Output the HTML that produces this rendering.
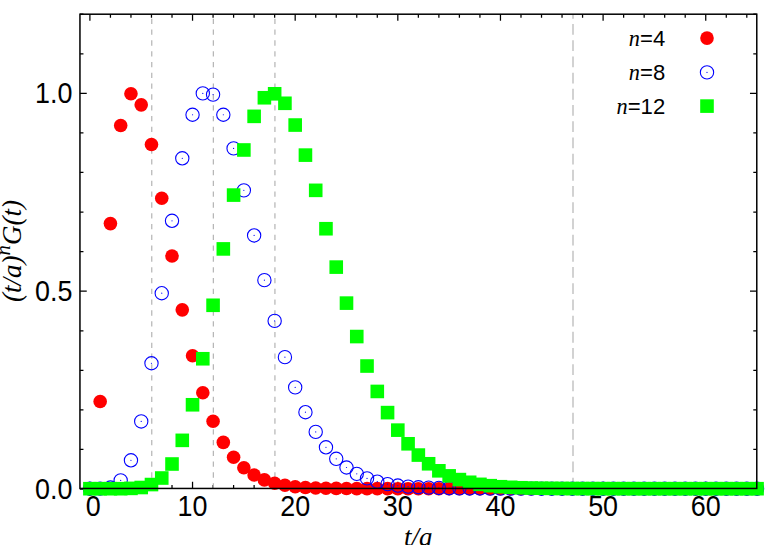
<!DOCTYPE html>
<html><head><meta charset="utf-8"><title>chart</title>
<style>html,body{margin:0;padding:0;background:#fff;overflow:hidden}svg{display:block}.s{font-family:"Liberation Sans",sans-serif}.i{font-family:"Liberation Serif",serif;font-style:italic}</style></head><body>
<svg width="778" height="545" viewBox="0 0 778 545">
<rect width="778" height="545" fill="#fff"/>
<path d="M89.90 488.45v-6.6M89.90 14.2v6.6M110.43 488.45v-3.5M110.43 14.2v3.5M130.96 488.45v-3.5M130.96 14.2v3.5M151.48 488.45v-3.5M151.48 14.2v3.5M172.01 488.45v-3.5M172.01 14.2v3.5M192.54 488.45v-6.6M192.54 14.2v6.6M213.07 488.45v-3.5M213.07 14.2v3.5M233.60 488.45v-3.5M233.60 14.2v3.5M254.12 488.45v-3.5M254.12 14.2v3.5M274.65 488.45v-3.5M274.65 14.2v3.5M295.18 488.45v-6.6M295.18 14.2v6.6M315.71 488.45v-3.5M315.71 14.2v3.5M336.24 488.45v-3.5M336.24 14.2v3.5M356.76 488.45v-3.5M356.76 14.2v3.5M377.29 488.45v-3.5M377.29 14.2v3.5M397.82 488.45v-6.6M397.82 14.2v6.6M418.35 488.45v-3.5M418.35 14.2v3.5M438.88 488.45v-3.5M438.88 14.2v3.5M459.40 488.45v-3.5M459.40 14.2v3.5M479.93 488.45v-3.5M479.93 14.2v3.5M500.46 488.45v-6.6M500.46 14.2v6.6M520.99 488.45v-3.5M520.99 14.2v3.5M541.52 488.45v-3.5M541.52 14.2v3.5M562.04 488.45v-3.5M562.04 14.2v3.5M582.57 488.45v-3.5M582.57 14.2v3.5M603.10 488.45v-6.6M603.10 14.2v6.6M623.63 488.45v-3.5M623.63 14.2v3.5M644.16 488.45v-3.5M644.16 14.2v3.5M664.68 488.45v-3.5M664.68 14.2v3.5M685.21 488.45v-3.5M685.21 14.2v3.5M705.74 488.45v-6.6M705.74 14.2v6.6M726.27 488.45v-3.5M726.27 14.2v3.5M746.80 488.45v-3.5M746.80 14.2v3.5M79.95 489.05h6.8M756.78 489.05h-6.8M79.95 449.48h3.5M756.78 449.48h-3.5M79.95 409.91h3.5M756.78 409.91h-3.5M79.95 370.34h3.5M756.78 370.34h-3.5M79.95 330.77h3.5M756.78 330.77h-3.5M79.95 291.20h6.8M756.78 291.20h-6.8M79.95 251.63h3.5M756.78 251.63h-3.5M79.95 212.06h3.5M756.78 212.06h-3.5M79.95 172.49h3.5M756.78 172.49h-3.5M79.95 132.92h3.5M756.78 132.92h-3.5M79.95 93.35h6.8M756.78 93.35h-6.8M79.95 53.78h3.5M756.78 53.78h-3.5M79.95 14.21h3.5M756.78 14.21h-3.5" stroke="#000" stroke-width="1.25" fill="none"/>
<line x1="151.76" y1="488.45" x2="151.76" y2="14.2" stroke="#b4b4b4" stroke-width="1.2" stroke-dasharray="5.3 5.5"/>
<line x1="213.35" y1="488.45" x2="213.35" y2="14.2" stroke="#b4b4b4" stroke-width="1.2" stroke-dasharray="5.3 5.5"/>
<line x1="274.93" y1="488.45" x2="274.93" y2="14.2" stroke="#b4b4b4" stroke-width="1.2" stroke-dasharray="5.3 5.5"/>
<line x1="573" y1="488.45" x2="573" y2="14.2" stroke="#d2d2d2" stroke-width="2" stroke-dasharray="10.8 5.4"/>
<g fill="#ff0000">
<circle cx="89.90" cy="488.70" r="6.8"/>
<circle cx="100.16" cy="401.53" r="6.8"/>
<circle cx="110.43" cy="223.58" r="6.8"/>
<circle cx="120.69" cy="125.45" r="6.8"/>
<circle cx="130.96" cy="93.79" r="6.8"/>
<circle cx="141.22" cy="104.87" r="6.8"/>
<circle cx="151.48" cy="144.44" r="6.8"/>
<circle cx="161.75" cy="198.26" r="6.8"/>
<circle cx="172.01" cy="256.03" r="6.8"/>
<circle cx="182.28" cy="309.84" r="6.8"/>
<circle cx="192.54" cy="355.74" r="6.8"/>
<circle cx="202.80" cy="392.70" r="6.8"/>
<circle cx="213.07" cy="421.23" r="6.8"/>
<circle cx="223.33" cy="442.40" r="6.8"/>
<circle cx="233.60" cy="457.20" r="6.8"/>
<circle cx="243.86" cy="467.81" r="6.8"/>
<circle cx="254.12" cy="475.01" r="6.8"/>
<circle cx="264.39" cy="479.92" r="6.8"/>
<circle cx="274.65" cy="483.20" r="6.8"/>
<circle cx="284.92" cy="485.22" r="6.8"/>
<circle cx="295.18" cy="486.72" r="6.8"/>
<circle cx="305.44" cy="487.51" r="6.8"/>
<circle cx="315.71" cy="487.96" r="6.8"/>
<circle cx="325.97" cy="488.24" r="6.8"/>
<circle cx="336.24" cy="488.42" r="6.8"/>
<circle cx="346.50" cy="488.52" r="6.8"/>
<circle cx="356.76" cy="488.59" r="6.8"/>
<circle cx="367.03" cy="488.63" r="6.8"/>
<circle cx="377.29" cy="488.66" r="6.8"/>
<circle cx="387.56" cy="488.67" r="6.8"/>
<circle cx="397.82" cy="488.68" r="6.8"/>
<circle cx="408.08" cy="488.69" r="6.8"/>
<circle cx="418.35" cy="488.69" r="6.8"/>
<circle cx="428.61" cy="488.70" r="6.8"/>
<circle cx="438.88" cy="488.70" r="6.8"/>
<circle cx="449.14" cy="488.70" r="6.8"/>
<circle cx="459.40" cy="488.70" r="6.8"/>
<circle cx="469.67" cy="488.70" r="6.8"/>
<circle cx="479.93" cy="488.70" r="6.8"/>
<circle cx="490.20" cy="488.70" r="6.8"/>
<circle cx="500.46" cy="488.70" r="6.8"/>
<circle cx="510.72" cy="488.70" r="6.8"/>
<circle cx="520.99" cy="488.70" r="6.8"/>
<circle cx="531.25" cy="488.70" r="6.8"/>
<circle cx="541.52" cy="488.70" r="6.8"/>
<circle cx="551.78" cy="488.70" r="6.8"/>
<circle cx="562.04" cy="488.70" r="6.8"/>
<circle cx="572.31" cy="488.70" r="6.8"/>
<circle cx="582.57" cy="488.70" r="6.8"/>
<circle cx="592.84" cy="488.70" r="6.8"/>
<circle cx="603.10" cy="488.70" r="6.8"/>
<circle cx="613.36" cy="488.70" r="6.8"/>
<circle cx="623.63" cy="488.70" r="6.8"/>
<circle cx="633.89" cy="488.70" r="6.8"/>
<circle cx="644.16" cy="488.70" r="6.8"/>
<circle cx="654.42" cy="488.70" r="6.8"/>
<circle cx="664.68" cy="488.70" r="6.8"/>
<circle cx="674.95" cy="488.70" r="6.8"/>
<circle cx="685.21" cy="488.70" r="6.8"/>
<circle cx="695.48" cy="488.70" r="6.8"/>
<circle cx="705.74" cy="488.70" r="6.8"/>
<circle cx="716.00" cy="488.70" r="6.8"/>
<circle cx="726.27" cy="488.70" r="6.8"/>
<circle cx="736.53" cy="488.70" r="6.8"/>
<circle cx="746.80" cy="488.70" r="6.8"/>
<circle cx="757.06" cy="488.70" r="6.8"/>
</g>
<g fill="none" stroke="#0000ff" stroke-width="1.1">
<circle cx="89.90" cy="488.70" r="6.65"/>
<circle cx="100.16" cy="488.66" r="6.65"/>
<circle cx="110.43" cy="487.51" r="6.65"/>
<circle cx="120.69" cy="480.39" r="6.65"/>
<circle cx="130.96" cy="460.29" r="6.65"/>
<circle cx="141.22" cy="421.43" r="6.65"/>
<circle cx="151.48" cy="363.26" r="6.65"/>
<circle cx="161.75" cy="293.22" r="6.65"/>
<circle cx="172.01" cy="220.81" r="6.65"/>
<circle cx="182.28" cy="158.29" r="6.65"/>
<circle cx="192.54" cy="114.76" r="6.65"/>
<circle cx="202.80" cy="93.40" r="6.65"/>
<circle cx="213.07" cy="94.58" r="6.65"/>
<circle cx="223.33" cy="114.76" r="6.65"/>
<circle cx="233.60" cy="148.40" r="6.65"/>
<circle cx="243.86" cy="190.34" r="6.65"/>
<circle cx="254.12" cy="235.45" r="6.65"/>
<circle cx="264.39" cy="280.17" r="6.65"/>
<circle cx="274.65" cy="320.92" r="6.65"/>
<circle cx="284.92" cy="357.13" r="6.65"/>
<circle cx="295.18" cy="387.40" r="6.65"/>
<circle cx="305.44" cy="412.21" r="6.65"/>
<circle cx="315.71" cy="431.92" r="6.65"/>
<circle cx="325.97" cy="447.31" r="6.65"/>
<circle cx="336.24" cy="458.82" r="6.65"/>
<circle cx="346.50" cy="467.49" r="6.65"/>
<circle cx="356.76" cy="473.86" r="6.65"/>
<circle cx="367.03" cy="478.41" r="6.65"/>
<circle cx="377.29" cy="481.70" r="6.65"/>
<circle cx="387.56" cy="484.11" r="6.65"/>
<circle cx="397.82" cy="485.57" r="6.65"/>
<circle cx="408.08" cy="486.60" r="6.65"/>
<circle cx="418.35" cy="487.24" r="6.65"/>
<circle cx="428.61" cy="487.63" r="6.65"/>
<circle cx="438.88" cy="487.95" r="6.65"/>
<circle cx="449.14" cy="488.18" r="6.65"/>
<circle cx="459.40" cy="488.33" r="6.65"/>
<circle cx="469.67" cy="488.44" r="6.65"/>
<circle cx="479.93" cy="488.52" r="6.65"/>
<circle cx="490.20" cy="488.57" r="6.65"/>
<circle cx="500.46" cy="488.61" r="6.65"/>
<circle cx="510.72" cy="488.64" r="6.65"/>
<circle cx="520.99" cy="488.66" r="6.65"/>
<circle cx="531.25" cy="488.67" r="6.65"/>
<circle cx="541.52" cy="488.68" r="6.65"/>
<circle cx="551.78" cy="488.69" r="6.65"/>
<circle cx="562.04" cy="488.69" r="6.65"/>
<circle cx="572.31" cy="488.69" r="6.65"/>
<circle cx="582.57" cy="488.69" r="6.65"/>
<circle cx="592.84" cy="488.70" r="6.65"/>
<circle cx="603.10" cy="488.70" r="6.65"/>
<circle cx="613.36" cy="488.70" r="6.65"/>
<circle cx="623.63" cy="488.70" r="6.65"/>
<circle cx="633.89" cy="488.70" r="6.65"/>
<circle cx="644.16" cy="488.70" r="6.65"/>
<circle cx="654.42" cy="488.70" r="6.65"/>
<circle cx="664.68" cy="488.70" r="6.65"/>
<circle cx="674.95" cy="488.70" r="6.65"/>
<circle cx="685.21" cy="488.70" r="6.65"/>
<circle cx="695.48" cy="488.70" r="6.65"/>
<circle cx="705.74" cy="488.70" r="6.65"/>
<circle cx="716.00" cy="488.70" r="6.65"/>
<circle cx="726.27" cy="488.70" r="6.65"/>
<circle cx="736.53" cy="488.70" r="6.65"/>
<circle cx="746.80" cy="488.70" r="6.65"/>
<circle cx="757.06" cy="488.70" r="6.65"/>
</g><g fill="#0000ff">
<circle cx="89.90" cy="488.70" r="0.6"/>
<circle cx="100.16" cy="488.66" r="0.6"/>
<circle cx="110.43" cy="487.51" r="0.6"/>
<circle cx="120.69" cy="480.39" r="0.6"/>
<circle cx="130.96" cy="460.29" r="0.6"/>
<circle cx="141.22" cy="421.43" r="0.6"/>
<circle cx="151.48" cy="363.26" r="0.6"/>
<circle cx="161.75" cy="293.22" r="0.6"/>
<circle cx="172.01" cy="220.81" r="0.6"/>
<circle cx="182.28" cy="158.29" r="0.6"/>
<circle cx="192.54" cy="114.76" r="0.6"/>
<circle cx="202.80" cy="93.40" r="0.6"/>
<circle cx="213.07" cy="94.58" r="0.6"/>
<circle cx="223.33" cy="114.76" r="0.6"/>
<circle cx="233.60" cy="148.40" r="0.6"/>
<circle cx="243.86" cy="190.34" r="0.6"/>
<circle cx="254.12" cy="235.45" r="0.6"/>
<circle cx="264.39" cy="280.17" r="0.6"/>
<circle cx="274.65" cy="320.92" r="0.6"/>
<circle cx="284.92" cy="357.13" r="0.6"/>
<circle cx="295.18" cy="387.40" r="0.6"/>
<circle cx="305.44" cy="412.21" r="0.6"/>
<circle cx="315.71" cy="431.92" r="0.6"/>
<circle cx="325.97" cy="447.31" r="0.6"/>
<circle cx="336.24" cy="458.82" r="0.6"/>
<circle cx="346.50" cy="467.49" r="0.6"/>
<circle cx="356.76" cy="473.86" r="0.6"/>
<circle cx="367.03" cy="478.41" r="0.6"/>
<circle cx="377.29" cy="481.70" r="0.6"/>
<circle cx="387.56" cy="484.11" r="0.6"/>
<circle cx="397.82" cy="485.57" r="0.6"/>
<circle cx="408.08" cy="486.60" r="0.6"/>
<circle cx="418.35" cy="487.24" r="0.6"/>
<circle cx="428.61" cy="487.63" r="0.6"/>
<circle cx="438.88" cy="487.95" r="0.6"/>
<circle cx="449.14" cy="488.18" r="0.6"/>
<circle cx="459.40" cy="488.33" r="0.6"/>
<circle cx="469.67" cy="488.44" r="0.6"/>
<circle cx="479.93" cy="488.52" r="0.6"/>
<circle cx="490.20" cy="488.57" r="0.6"/>
<circle cx="500.46" cy="488.61" r="0.6"/>
<circle cx="510.72" cy="488.64" r="0.6"/>
<circle cx="520.99" cy="488.66" r="0.6"/>
<circle cx="531.25" cy="488.67" r="0.6"/>
<circle cx="541.52" cy="488.68" r="0.6"/>
<circle cx="551.78" cy="488.69" r="0.6"/>
<circle cx="562.04" cy="488.69" r="0.6"/>
<circle cx="572.31" cy="488.69" r="0.6"/>
<circle cx="582.57" cy="488.69" r="0.6"/>
<circle cx="592.84" cy="488.70" r="0.6"/>
<circle cx="603.10" cy="488.70" r="0.6"/>
<circle cx="613.36" cy="488.70" r="0.6"/>
<circle cx="623.63" cy="488.70" r="0.6"/>
<circle cx="633.89" cy="488.70" r="0.6"/>
<circle cx="644.16" cy="488.70" r="0.6"/>
<circle cx="654.42" cy="488.70" r="0.6"/>
<circle cx="664.68" cy="488.70" r="0.6"/>
<circle cx="674.95" cy="488.70" r="0.6"/>
<circle cx="685.21" cy="488.70" r="0.6"/>
<circle cx="695.48" cy="488.70" r="0.6"/>
<circle cx="705.74" cy="488.70" r="0.6"/>
<circle cx="716.00" cy="488.70" r="0.6"/>
<circle cx="726.27" cy="488.70" r="0.6"/>
<circle cx="736.53" cy="488.70" r="0.6"/>
<circle cx="746.80" cy="488.70" r="0.6"/>
<circle cx="757.06" cy="488.70" r="0.6"/>
</g>
<g fill="#00ff00">
<rect x="83.10" y="481.90" width="13.6" height="13.6"/>
<rect x="93.36" y="481.90" width="13.6" height="13.6"/>
<rect x="103.63" y="481.90" width="13.6" height="13.6"/>
<rect x="113.89" y="481.90" width="13.6" height="13.6"/>
<rect x="124.16" y="481.58" width="13.6" height="13.6"/>
<rect x="134.42" y="480.71" width="13.6" height="13.6"/>
<rect x="144.68" y="477.75" width="13.6" height="13.6"/>
<rect x="154.95" y="471.22" width="13.6" height="13.6"/>
<rect x="165.21" y="457.21" width="13.6" height="13.6"/>
<rect x="175.48" y="433.55" width="13.6" height="13.6"/>
<rect x="185.74" y="397.97" width="13.6" height="13.6"/>
<rect x="196.00" y="351.95" width="13.6" height="13.6"/>
<rect x="206.27" y="298.49" width="13.6" height="13.6"/>
<rect x="216.53" y="242.11" width="13.6" height="13.6"/>
<rect x="226.80" y="188.29" width="13.6" height="13.6"/>
<rect x="237.06" y="143.18" width="13.6" height="13.6"/>
<rect x="247.32" y="109.55" width="13.6" height="13.6"/>
<rect x="257.59" y="90.95" width="13.6" height="13.6"/>
<rect x="267.85" y="86.99" width="13.6" height="13.6"/>
<rect x="278.12" y="96.49" width="13.6" height="13.6"/>
<rect x="288.38" y="118.25" width="13.6" height="13.6"/>
<rect x="298.64" y="148.32" width="13.6" height="13.6"/>
<rect x="308.91" y="183.54" width="13.6" height="13.6"/>
<rect x="319.17" y="221.93" width="13.6" height="13.6"/>
<rect x="329.44" y="260.31" width="13.6" height="13.6"/>
<rect x="339.70" y="296.32" width="13.6" height="13.6"/>
<rect x="349.96" y="329.75" width="13.6" height="13.6"/>
<rect x="360.23" y="359.23" width="13.6" height="13.6"/>
<rect x="370.49" y="384.64" width="13.6" height="13.6"/>
<rect x="380.76" y="405.81" width="13.6" height="13.6"/>
<rect x="391.02" y="423.34" width="13.6" height="13.6"/>
<rect x="401.28" y="436.99" width="13.6" height="13.6"/>
<rect x="411.55" y="448.27" width="13.6" height="13.6"/>
<rect x="421.81" y="456.97" width="13.6" height="13.6"/>
<rect x="432.08" y="464.01" width="13.6" height="13.6"/>
<rect x="442.34" y="469.08" width="13.6" height="13.6"/>
<rect x="452.60" y="472.80" width="13.6" height="13.6"/>
<rect x="462.87" y="475.49" width="13.6" height="13.6"/>
<rect x="473.13" y="477.55" width="13.6" height="13.6"/>
<rect x="483.40" y="478.89" width="13.6" height="13.6"/>
<rect x="493.66" y="479.92" width="13.6" height="13.6"/>
<rect x="503.92" y="480.52" width="13.6" height="13.6"/>
<rect x="514.19" y="480.95" width="13.6" height="13.6"/>
<rect x="524.45" y="481.24" width="13.6" height="13.6"/>
<rect x="534.72" y="481.43" width="13.6" height="13.6"/>
<rect x="544.98" y="481.57" width="13.6" height="13.6"/>
<rect x="555.24" y="481.67" width="13.6" height="13.6"/>
<rect x="565.51" y="481.74" width="13.6" height="13.6"/>
<rect x="575.77" y="481.79" width="13.6" height="13.6"/>
<rect x="586.04" y="481.82" width="13.6" height="13.6"/>
<rect x="596.30" y="481.85" width="13.6" height="13.6"/>
<rect x="606.56" y="481.86" width="13.6" height="13.6"/>
<rect x="616.83" y="481.87" width="13.6" height="13.6"/>
<rect x="627.09" y="481.88" width="13.6" height="13.6"/>
<rect x="637.36" y="481.89" width="13.6" height="13.6"/>
<rect x="647.62" y="481.89" width="13.6" height="13.6"/>
<rect x="657.88" y="481.89" width="13.6" height="13.6"/>
<rect x="668.15" y="481.90" width="13.6" height="13.6"/>
<rect x="678.41" y="481.90" width="13.6" height="13.6"/>
<rect x="688.68" y="481.90" width="13.6" height="13.6"/>
<rect x="698.94" y="481.90" width="13.6" height="13.6"/>
<rect x="709.20" y="481.90" width="13.6" height="13.6"/>
<rect x="719.47" y="481.90" width="13.6" height="13.6"/>
<rect x="729.73" y="481.90" width="13.6" height="13.6"/>
<rect x="740.00" y="481.90" width="13.6" height="13.6"/>
<rect x="750.26" y="481.90" width="13.6" height="13.6"/>
</g>
<circle cx="707.0" cy="38.1" r="6.8" fill="#ff0000"/>
<circle cx="707.0" cy="72.4" r="6.65" fill="none" stroke="#0000ff" stroke-width="1.1"/><circle cx="707.0" cy="72.4" r="0.6" fill="#0000ff"/>
<rect x="700.20" y="99.30" width="13.6" height="13.6" fill="#00ff00"/>
<text transform="translate(665.2,45.8) scale(1,1.02)" text-anchor="end" font-size="22.1" class="s">=4</text>
<text x="640.01" y="45.8" text-anchor="end" font-size="22.3" class="i">n</text>
<text transform="translate(665.2,80.0) scale(1,1.02)" text-anchor="end" font-size="22.1" class="s">=8</text>
<text x="640.01" y="80.0" text-anchor="end" font-size="22.3" class="i">n</text>
<text transform="translate(665.2,113.8) scale(1,1.02)" text-anchor="end" font-size="22.1" class="s">=12</text>
<text x="627.72" y="113.8" text-anchor="end" font-size="22.3" class="i">n</text>
<rect x="79.95" y="14.2" width="676.83" height="474.25" fill="none" stroke="#000" stroke-width="1.5"/>
<text transform="translate(93.30,515.9) scale(1,1.13)" text-anchor="middle" font-size="26.9" class="s">0</text>
<text transform="translate(192.54,515.9) scale(1,1.13)" text-anchor="middle" font-size="26.9" class="s">10</text>
<text transform="translate(295.18,515.9) scale(1,1.13)" text-anchor="middle" font-size="26.9" class="s">20</text>
<text transform="translate(397.82,515.9) scale(1,1.13)" text-anchor="middle" font-size="26.9" class="s">30</text>
<text transform="translate(500.46,515.9) scale(1,1.13)" text-anchor="middle" font-size="26.9" class="s">40</text>
<text transform="translate(603.10,515.9) scale(1,1.13)" text-anchor="middle" font-size="26.9" class="s">50</text>
<text transform="translate(705.74,515.9) scale(1,1.13)" text-anchor="middle" font-size="26.9" class="s">60</text>
<text transform="translate(72.4,498.50) scale(1,1.13)" text-anchor="end" font-size="26.9" class="s">0.0</text>
<text transform="translate(72.4,300.65) scale(1,1.13)" text-anchor="end" font-size="26.9" class="s">0.5</text>
<text transform="translate(72.4,102.80) scale(1,1.13)" text-anchor="end" font-size="26.9" class="s">1.0</text>
<text x="418.2" y="545.7" text-anchor="middle" font-size="27" class="i">t/a</text>
<text transform="translate(21.1,251.0) rotate(-90)" text-anchor="middle" font-size="27" class="i">(t/a)<tspan font-size="20.8" dy="-11.0">n</tspan><tspan dy="11.0">G(t)</tspan></text>
</svg></body></html>
